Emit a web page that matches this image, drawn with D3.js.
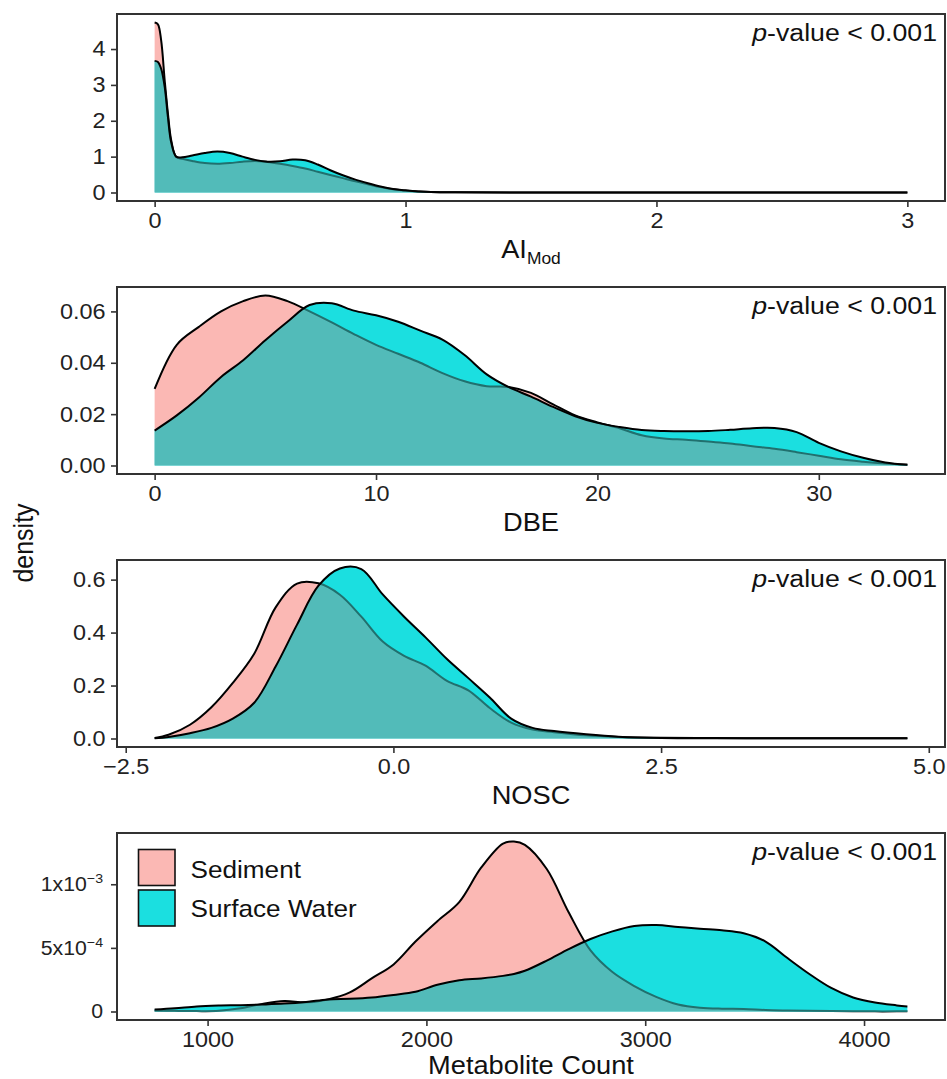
<!DOCTYPE html>
<html><head><meta charset="utf-8">
<script src="https://cdn.jsdelivr.net/npm/d3@7"></script>
<style>body{margin:0;background:#fff}svg{display:block;font-family:"Liberation Sans",Arial,Helvetica,sans-serif}</style>
</head><body><svg id="c" width="947" height="1079"></svg>
<script>
// ---------- data ----------
const seriesNames = ["Sediment", "Surface Water"];

const aiX   = [0, 0.013, 0.026, 0.04, 0.053, 0.066, 0.086, 0.11, 0.15, 0.2, 0.25, 0.3, 0.35, 0.4, 0.45, 0.5, 0.55, 0.6, 0.65, 0.7, 0.75, 0.8, 0.85, 0.9, 0.95, 1.0, 1.05, 1.1, 1.2, 1.5, 2.0, 2.5, 3.0];
const aiSed = [4.74, 4.69, 4.24, 3.13, 2.2, 1.46, 0.99, 0.94, 0.88, 0.82, 0.80, 0.82, 0.86, 0.88, 0.85, 0.80, 0.74, 0.67, 0.58, 0.49, 0.40, 0.31, 0.23, 0.15, 0.09, 0.05, 0.03, 0.015, 0.006, 0.002, 0.001, 0.001, 0.001];
const aiWat = [3.67, 3.64, 3.45, 2.95, 2.1, 1.4, 1.0, 0.98, 1.03, 1.10, 1.14, 1.10, 1.00, 0.91, 0.86, 0.87, 0.92, 0.90, 0.78, 0.62, 0.48, 0.36, 0.26, 0.17, 0.10, 0.06, 0.03, 0.015, 0.006, 0.002, 0.001, 0.001, 0.001];

const dbeX   = [0,1,2,3,4,5,6,7,8,9,10,11,12,13,14,15,16,17,18,19,20,21,22,23,24,25,26,27,28,29,30,31,32,33,34];
const dbeSed = [0.0298,0.0470,0.0540,0.0600,0.0640,0.0662,0.0640,0.0600,0.0557,0.0512,0.0470,0.0435,0.0400,0.0360,0.0328,0.0309,0.0306,0.0283,0.0238,0.0195,0.0168,0.0145,0.0118,0.0105,0.0100,0.0093,0.0086,0.0075,0.0065,0.0052,0.0038,0.0024,0.0015,0.0008,0.0003];
const dbeWat = [0.0136,0.0195,0.0265,0.0345,0.0410,0.0488,0.0560,0.0625,0.0632,0.0603,0.0585,0.0560,0.0525,0.0490,0.0430,0.0355,0.0305,0.0268,0.0228,0.0192,0.0166,0.0150,0.0138,0.0134,0.0133,0.0134,0.0139,0.0145,0.0146,0.0130,0.0088,0.0055,0.0030,0.0012,0.0003];

const noscX   = [-2.23,-2.1,-1.9,-1.7,-1.5,-1.3,-1.1,-0.9,-0.7,-0.5,-0.3,-0.1,0.1,0.3,0.5,0.7,0.9,1.1,1.3,1.5,1.8,2.1,2.5,3.0,3.5,4.0,4.5,4.8];
const noscSed = [0.002,0.014,0.052,0.118,0.210,0.320,0.495,0.585,0.586,0.543,0.460,0.366,0.312,0.275,0.218,0.182,0.115,0.060,0.034,0.024,0.012,0.006,0.003,0.002,0.001,0.001,0.001,0.001];
const noscWat = [0.001,0.006,0.020,0.040,0.075,0.135,0.272,0.430,0.577,0.642,0.640,0.544,0.460,0.382,0.300,0.228,0.155,0.075,0.040,0.028,0.016,0.007,0.002,0.001,0.001,0.001,0.001,0.001];

const mcX   = [758,850,950,1050,1150,1250,1350,1450,1550,1650,1750,1850,1950,2050,2150,2250,2350,2400,2450,2550,2650,2750,2850,2950,3050,3150,3250,3350,3450,3550,3650,3750,3850,3950,4050,4150,4198];
const mcSed = [0.08e-4,0.05e-4,0.03e-4,0.05e-4,0.25e-4,0.6e-4,0.82e-4,0.72e-4,0.95e-4,1.5e-4,2.6e-4,3.7e-4,5.5e-4,7.1e-4,8.6e-4,11.3e-4,13.2e-4,13.36e-4,13.1e-4,11.2e-4,7.8e-4,4.8e-4,3.1e-4,2.0e-4,1.15e-4,0.55e-4,0.3e-4,0.22e-4,0.2e-4,0.12e-4,0.08e-4,0.05e-4,0.03e-4,0.02e-4,0.01e-4,0.01e-4,0.01e-4];
const mcWat = [0.15e-4,0.25e-4,0.4e-4,0.47e-4,0.5e-4,0.55e-4,0.62e-4,0.75e-4,0.95e-4,1.0e-4,1.1e-4,1.3e-4,1.55e-4,2.1e-4,2.45e-4,2.6e-4,2.8e-4,2.95e-4,3.2e-4,4.0e-4,4.9e-4,5.7e-4,6.3e-4,6.72e-4,6.8e-4,6.65e-4,6.5e-4,6.38e-4,6.15e-4,5.5e-4,4.2e-4,2.95e-4,1.85e-4,1.1e-4,0.7e-4,0.48e-4,0.39e-4];

const aiXTicks = [0,1,2,3],           aiXLabels = ["0","1","2","3"];
const aiYTicks = [0,1,2,3,4],         aiYLabels = ["0","1","2","3","4"];
const dbeXTicks = [0,10,20,30],       dbeXLabels = ["0","10","20","30"];
const dbeYTicks = [0,0.02,0.04,0.06], dbeYLabels = ["0.00","0.02","0.04","0.06"];
const noscXTicks = [-2.5,0,2.5,5],    noscXLabels = ["\u22122.5","0.0","2.5","5.0"];
const noscYTicks = [0,0.2,0.4,0.6],   noscYLabels = ["0.0","0.2","0.4","0.6"];
const mcXTicks = [1000,2000,3000,4000], mcXLabels = ["1000","2000","3000","4000"];
const mcYTicks = [0,5e-4,1e-3],       mcYBase = ["0","5x10","1x10"], mcYExp = ["","\u22124","\u22123"];

const pLabel = "p";
const pRest = "-value < 0.001";
const yTitle = "density";

// ---------- layout ----------
const SX = 1.09;
const L = 117, R = 945, H = 187;
const tops = [14, 287, 560, 833];
const colSed = "#FBB8B4", colWat = "#1BDFE0", colOver = "#52BBB9", colHidden = "#21706E";

const panels = [
  {x: aiX, s: aiSed, w: aiWat, xt: aiXTicks, xl: aiXLabels, yt: aiYTicks, yl: aiYLabels, title: "ai"},
  {x: dbeX, s: dbeSed, w: dbeWat, xt: dbeXTicks, xl: dbeXLabels, yt: dbeYTicks, yl: dbeYLabels, title: "DBE"},
  {x: noscX, s: noscSed, w: noscWat, xt: noscXTicks, xl: noscXLabels, yt: noscYTicks, yl: noscYLabels, title: "NOSC"},
  {x: mcX, s: mcSed, w: mcWat, xt: mcXTicks, xl: mcXLabels, yt: mcYTicks, yl: null, title: "Metabolite Count"}
];

const svg = d3.select("#c");

function stretchText(sel) {
  sel.each(function () {
    const t = d3.select(this);
    const x = +t.attr("x") || 0;
    t.attr("x", 0).attr("transform", `translate(${x},0) scale(${SX},1)`);
  });
}
function addText(g, x, y, str, size, anchor) {
  return g.append("text")
    .attr("transform", `translate(${x},${y}) scale(${SX},1)`)
    .attr("text-anchor", anchor || "start")
    .attr("font-size", size)
    .attr("fill", "#111")
    .text(str);
}

panels.forEach((p, i) => {
  const top = tops[i], bot = top + H;
  const xmin = d3.min(p.x), xmax = d3.max(p.x), xr = xmax - xmin;
  const x = d3.scaleLinear().domain([xmin - 0.05 * xr, xmax + 0.05 * xr]).range([L, R]);
  const ymax = d3.max([...p.s, ...p.w]);
  const y = d3.scaleLinear().domain([-0.05 * ymax, 1.05 * ymax]).range([bot, top]);

  const ptsS = p.x.map((v, k) => [v, p.s[k]]);
  const ptsW = p.x.map((v, k) => [v, p.w[k]]);
  const crv = d3.curveCatmullRom.alpha(0.5);
  const area = d3.area().x(d => x(d[0])).y0(y(0)).y1(d => Math.min(y(0), y(d[1]))).curve(crv);
  const line = d3.line().x(d => x(d[0])).y(d => y(d[1])).curve(crv);

  const g = svg.append("g");
  const clipId = "wclip" + i;
  g.append("clipPath").attr("id", clipId).append("path").attr("d", area(ptsW));

  g.append("path").attr("d", area(ptsS)).attr("fill", colSed);
  g.append("path").attr("d", line(ptsS)).attr("fill", "none").attr("stroke", "#000").attr("stroke-width", 2);
  g.append("path").attr("d", area(ptsW)).attr("fill", colWat);
  g.append("path").attr("d", area(ptsS)).attr("fill", colOver).attr("clip-path", `url(#${clipId})`);
  g.append("path").attr("d", line(ptsS)).attr("fill", "none").attr("stroke", colHidden).attr("stroke-width", 2).attr("clip-path", `url(#${clipId})`);
  g.append("path").attr("d", line(ptsW)).attr("fill", "none").attr("stroke", "#000").attr("stroke-width", 2);

  // box
  g.append("rect").attr("x", L).attr("y", top).attr("width", R - L).attr("height", H)
    .attr("fill", "none").attr("stroke", "#333").attr("stroke-width", 2);

  // axes
  const ax = g.append("g").attr("transform", `translate(0,${bot})`)
    .call(d3.axisBottom(x).tickValues(p.xt).tickFormat((d, k) => p.xl[k]).tickSizeOuter(0).tickSize(6).tickPadding(6));
  const ay = g.append("g").attr("transform", `translate(${L},0)`)
    .call(d3.axisLeft(y).tickValues(p.yt).tickFormat((d, k) => p.yl ? p.yl[k] : mcYBase[k]).tickSizeOuter(0).tickSize(6).tickPadding(p.yl ? 5.5 : 8));
  [ax, ay].forEach(a => {
    a.select(".domain").remove();
    a.selectAll("line").attr("stroke", "#333").attr("stroke-width", 1.6);
    a.selectAll("text").attr("font-size", 21.5).attr("fill", "#222").attr("font-family", null);
  });
  ax.selectAll("text").call(stretchText);
  if (!p.yl) {
    ay.selectAll("text").attr("font-size", 19.5).each(function (d, k) {
      if (mcYExp[k]) {
        const t = d3.select(this);
        t.append("tspan").attr("dy", -8).attr("font-size", 13).text(mcYExp[k]);
      }
    });
  }
  ay.selectAll("text").call(stretchText);

  // p-value
  const pv = g.append("text").attr("transform", `translate(937,${top + 27}) scale(${SX},1)`)
    .attr("text-anchor", "end").attr("font-size", 24.5).attr("fill", "#111");
  pv.append("tspan").attr("font-style", "italic").text(pLabel);
  pv.append("tspan").text(pRest);

  // x title
  const ty = i === 3 ? bot + 54 : bot + 57;
  if (p.title === "ai") {
    const t = g.append("text").attr("transform", `translate(${(L + R) / 2},${ty}) scale(${SX},1)`)
      .attr("text-anchor", "middle").attr("font-size", 25).attr("fill", "#111");
    t.append("tspan").text("AI");
    t.append("tspan").attr("font-size", 16).attr("dy", 6).text("Mod");
  } else {
    addText(g, (L + R) / 2, ty, p.title, 25, "middle");
  }
});

// y title
svg.append("text").attr("transform", `translate(33,543) scale(${SX},1) rotate(-90)`)
  .attr("text-anchor", "middle").attr("font-size", 25).attr("fill", "#111").text(yTitle);

// legend
const lg = svg.append("g");
[colSed, colWat].forEach((c, k) => {
  lg.append("rect").attr("x", 138.5).attr("y", 849.5 + k * 40.5).attr("width", 36.5).attr("height", 36)
    .attr("fill", c).attr("stroke", "#111").attr("stroke-width", 1.6);
  addText(lg, 190.5, 877.5 + k * 39.5, seriesNames[k], 24, "start");
});
</script></body></html>
